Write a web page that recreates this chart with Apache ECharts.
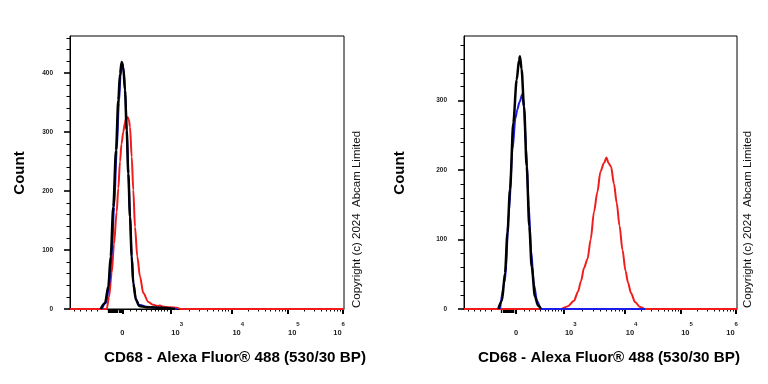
<!DOCTYPE html>
<html><head><meta charset="utf-8">
<script src="https://cdn.jsdelivr.net/npm/echarts@6/dist/echarts.min.js"></script>
<style>html,body{margin:0;padding:0;background:#fff}#c{width:768px;height:384px}</style>
</head><body><div id="c"></div>
<script>
// x axis is in display units (biexponential display, 0..1000 across the plot)
const majorTickPos = [191, 367, 589, 794, 996];
const tickLabelPos = [191, 391, 614, 817, 982];
const tickLabels = ['{b|0}', '{b|10}{s|3}', '{b|10}{s|4}', '{b|10}{s|5}', '{b|10}{s|6}'];
const negTickPos = [15, 37, 58, 79, 100];
const zeroClusterPos = [138, 142, 146, 150, 154, 158, 162, 166, 170, 174, 178, 182, 186];
const lowTickPos = [221, 240, 260, 280, 296, 310, 323, 334, 345, 356];

const leftYMajor = [0, 100, 200, 300, 400];
const rightYMajor = [0, 100, 200, 300];
const leftYMax = 463;
const rightYMax = 393;

// Left panel histograms [display position, count]
const leftRed = [[0,0],[134,0],[142.3,20],[152.2,61],[160.6,110],[170.4,165],[176.3,205],[182.5,250],[188,280],[194.5,300],[200,315],[204.4,323],[210.6,325],[215,320],[219,309],[225.2,258],[231,202],[237.2,139],[245.6,89],[255.5,55],[267.5,27],[285.8,12],[304,7],[320,5],[328.5,6],[340,4],[365,3],[389.4,2],[405,0],[1000,0]];
const leftBlue = [[116,0],[131,10],[143,38],[152,89],[161,173],[170.5,269],[178.5,350],[184.5,395],[190.5,415],[196,405],[202,365],[207.5,300],[213,230],[219,158],[225,92],[231,46],[240,18],[252,7],[280,4],[330,2],[370,1],[390,0]];
const leftBlack = [[112,0],[127.7,10],[139.8,38],[148.5,89],[158,173],[167.9,269],[176.3,354],[182.5,399],[188.7,419],[194.5,410],[200.7,371],[206.9,303],[212.8,230],[219,156],[225.2,89],[231,43],[240.9,15],[252.9,5],[279.9,3],[328.5,2],[365,1],[383,0]];

// Right panel histograms
const rightRed = [[0,0],[353.5,0],[381,4],[403,12],[417.6,25],[428.6,40],[439.6,59],[452.4,72],[464.1,100],[476.2,140],[488.3,168],[500,198],[512.8,210],[522,218],[529.3,210],[538.5,205],[549.5,180],[559.3,153],[569.6,120],[580.6,85],[591.6,55],[600.7,38],[611.7,23],[626.4,10],[644.7,3],[663,0],[1000,0]];
const rightBlue = [[132,0],[150.2,40],[164.8,140],[177.7,230],[188.6,275],[195.2,287],[203.3,298],[213.6,309],[219.8,290],[227.1,235],[237,150],[245.4,85],[256.4,35],[267.4,12],[282,0],[663,0]];
const rightBlack = [[125.6,0],[139.2,12],[150.2,52],[159.3,110],[168.5,172],[180.6,268],[193,330],[201.5,358],[205,364],[211,345],[219.8,292],[229.7,205],[239.2,119],[248,61],[260,18],[271,5],[282,0]];

// minor ticks inside decades (log spacing)
const decadeTicks = [];
for (let i = 1; i < majorTickPos.length - 1; i++) {
  const a = majorTickPos[i], b = majorTickPos[i + 1];
  for (let k = 2; k <= 9; k++) decadeTicks.push(a + (b - a) * Math.log10(k));
}
const minorXTicks = negTickPos.concat(lowTickPos, decadeTicks);

const FONT = '"Liberation Sans", Arial, sans-serif';
const BLACK = '#000';

function xAxesFor(g) {
  const base = {type: 'value', gridIndex: g, min: 0, max: 1000, position: 'bottom', splitLine: {show: false}};
  return [
    Object.assign({}, base, {
      axisLine: {show: true, onZero: false, lineStyle: {color: BLACK, width: 1}},
      axisTick: {show: true, customValues: majorTickPos, length: 5, lineStyle: {color: BLACK, width: 2}},
      axisLabel: {
        show: true, customValues: tickLabelPos, margin: 12.5, color: '#222',
        fontFamily: FONT,
        formatter: function (v) { const i = tickLabelPos.indexOf(v); return i >= 0 ? tickLabels[i] : ''; },
        rich: {
          b: {fontSize: 7.5, fontWeight: 'bold', fontFamily: FONT, color: '#222', lineHeight: 15, verticalAlign: 'bottom'},
          s: {fontSize: 6, fontWeight: 'bold', fontFamily: FONT, color: '#222', lineHeight: 6, verticalAlign: 'top'}
        }
      }
    }),
    Object.assign({}, base, {
      axisLine: {show: false},
      axisTick: {show: true, customValues: minorXTicks, length: 2.5, lineStyle: {color: BLACK, width: 1}},
      axisLabel: {show: false}
    }),
    Object.assign({}, base, {
      axisLine: {show: false},
      axisTick: {show: true, customValues: zeroClusterPos, length: 4, lineStyle: {color: BLACK, width: 1.3}},
      axisLabel: {show: false}
    })
  ];
}

function yAxesFor(g, max, majors) {
  const minors = [];
  for (let v = 20; v <= max; v += 20) if (v % 100 !== 0) minors.push(v);
  const base = {type: 'value', gridIndex: g, min: 0, max: max, position: 'left', splitLine: {show: false}};
  return [
    Object.assign({}, base, {
      axisLine: {show: true, onZero: false, lineStyle: {color: BLACK, width: 1}},
      axisTick: {show: true, customValues: majors, length: 6, lineStyle: {color: BLACK, width: 1.6}},
      axisLabel: {show: true, customValues: majors, margin: 17, fontSize: 6.5, fontWeight: 'bold', color: '#222', fontFamily: FONT}
    }),
    Object.assign({}, base, {
      axisLine: {show: false},
      axisTick: {show: true, customValues: minors, length: 3.5, lineStyle: {color: BLACK, width: 1}},
      axisLabel: {show: false}
    })
  ];
}

function line(data, color, width, xi, yi, z) {
  return {type: 'line', data: data, xAxisIndex: xi, yAxisIndex: yi, showSymbol: false, symbol: 'none',
    smooth: 0.3, smoothMonotone: 'x', z: z, silent: true, animation: false,
    lineStyle: {color: color, width: width}};
}

const RED = '#f01c1c', BLUE = '#1c1ce6';

const chart = echarts.init(document.getElementById('c'), null, {renderer: 'canvas'});
chart.setOption({
  animation: false,
  backgroundColor: '#fff',
  grid: [
    {left: 70, top: 36, width: 274, height: 273, show: true, borderColor: BLACK, borderWidth: 1, containLabel: false},
    {left: 464, top: 36, width: 273, height: 273, show: true, borderColor: BLACK, borderWidth: 1, containLabel: false}
  ],
  xAxis: xAxesFor(0).concat(xAxesFor(1)),
  yAxis: yAxesFor(0, leftYMax, leftYMajor).concat(yAxesFor(1, rightYMax, rightYMajor)),
  series: [
    line(leftRed, RED, 2, 0, 0, 2),
    line(leftBlue, BLUE, 2, 0, 0, 3),
    line(leftBlack, BLACK, 2.5, 0, 0, 4),
    line(rightRed, RED, 2, 3, 2, 2),
    line(rightBlue, BLUE, 2, 3, 2, 3),
    line(rightBlack, BLACK, 2.5, 3, 2, 4)
  ],
  graphic: [
    {type: 'text', x: 20, y: 173, rotation: Math.PI / 2, style: {text: 'Count', font: 'bold 15px ' + FONT, fill: BLACK, align: 'center', verticalAlign: 'middle'}},
    {type: 'text', x: 400, y: 173, rotation: Math.PI / 2, style: {text: 'Count', font: 'bold 15px ' + FONT, fill: BLACK, align: 'center', verticalAlign: 'middle'}},
    {type: 'text', x: 235, y: 358, style: {text: 'CD68 - Alexa Fluor® 488 (530/30 BP)', font: 'bold 15.2px ' + FONT, fill: BLACK, align: 'center', verticalAlign: 'middle'}},
    {type: 'text', x: 609, y: 358, style: {text: 'CD68 - Alexa Fluor® 488 (530/30 BP)', font: 'bold 15.2px ' + FONT, fill: BLACK, align: 'center', verticalAlign: 'middle'}},
    {type: 'text', x: 356.5, y: 219.5, rotation: Math.PI / 2, style: {text: 'Copyright (c) 2024  Abcam Limited', font: '11.5px ' + FONT, fill: '#111', align: 'center', verticalAlign: 'middle'}},
    {type: 'text', x: 748, y: 219.5, rotation: Math.PI / 2, style: {text: 'Copyright (c) 2024  Abcam Limited', font: '11.5px ' + FONT, fill: '#111', align: 'center', verticalAlign: 'middle'}}
  ]
});
</script></body></html>
